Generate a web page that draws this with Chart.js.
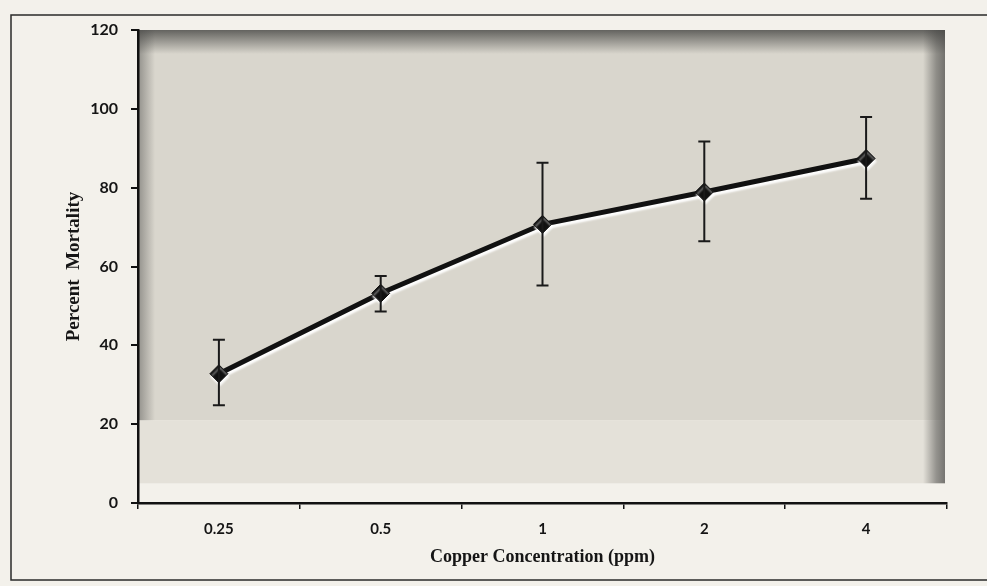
<!DOCTYPE html>
<html>
<head>
<meta charset="utf-8">
<title>Percent Mortality vs Copper Concentration</title>
<script src="https://cdn.jsdelivr.net/npm/chart.js@4.4.1/dist/chart.umd.min.js"></script>
<style>
  html, body { margin: 0; padding: 0; background: #f3f1eb; }
  #wrap { width: 987px; height: 586px; position: relative; }
</style>
</head>
<body>
<div id="wrap"><canvas id="c" width="987" height="586"></canvas></div>
<script>
// Copper concentration groups (ppm)
const concentrations = ['0.25', '0.5', '1', '2', '4'];
// Mean percent mortality per group
const mortality = [32.8, 53.2, 70.7, 78.9, 87.4];
// Error bar limits (lower / upper) per group
const errLow = [24.8, 48.6, 55.2, 66.4, 77.2];
const errHigh = [41.4, 57.6, 86.3, 91.7, 97.9];
// Y axis range and step
const yTicks = { min: 0, max: 120, step: 20 };

// Page background, outer frame and the shaded plotting panel
const panelPlugin = {
  id: 'panel',
  beforeDraw(chart) {
    const { ctx, chartArea: a, scales: { y } } = chart;
    ctx.save();
    ctx.fillStyle = '#f3f1eb';
    ctx.fillRect(0, 0, chart.width, chart.height);

    // outer frame
    ctx.strokeStyle = '#2a2a2a';
    ctx.lineWidth = 1.5;
    ctx.strokeRect(11, 15, chart.width + 20, 565);

    const left = a.left + 1, right = a.right - 2;
    const top = a.top, midY = y.getPixelForValue(21), lowY = y.getPixelForValue(5);

    ctx.fillStyle = '#d9d6cd';
    ctx.fillRect(left, top, right - left, midY - top);
    ctx.fillStyle = '#e4e1d9';
    ctx.fillRect(left, midY, right - left, lowY - midY);

    // darker edges of the panel
    let g = ctx.createLinearGradient(0, top, 0, top + 24);
    g.addColorStop(0, 'rgba(60,60,58,0.75)');
    g.addColorStop(1, 'rgba(60,60,58,0)');
    ctx.fillStyle = g;
    ctx.fillRect(left, top, right - left, 24);

    g = ctx.createLinearGradient(right - 22, 0, right, 0);
    g.addColorStop(0, 'rgba(70,70,68,0)');
    g.addColorStop(0.6, 'rgba(70,70,68,0.5)');
    g.addColorStop(1, 'rgba(70,70,68,0.7)');
    ctx.fillStyle = g;
    ctx.fillRect(right - 22, top, 22, lowY - top);

    g = ctx.createLinearGradient(left, 0, left + 16, 0);
    g.addColorStop(0, 'rgba(70,70,68,0.45)');
    g.addColorStop(1, 'rgba(70,70,68,0)');
    ctx.fillStyle = g;
    ctx.fillRect(left, top, 16, midY - top);
    ctx.restore();
  }
};

// Light halo under the mean line
const haloPlugin = {
  id: 'halo',
  beforeDatasetDraw(chart) {
    const ctx = chart.ctx;
    ctx.save();
    ctx.shadowColor = 'rgba(255,255,255,0.95)';
    ctx.shadowOffsetX = 1;
    ctx.shadowOffsetY = 3;
    ctx.shadowBlur = 2;
  },
  afterDatasetDraw(chart) {
    chart.ctx.restore();
  }
};

// Vertical error bars with caps
const errorBarPlugin = {
  id: 'errorBars',
  afterDatasetsDraw(chart) {
    const { ctx, scales: { x, y } } = chart;
    ctx.save();
    ctx.strokeStyle = '#1a1a1a';
    ctx.lineWidth = 2;
    const cap = 6;
    concentrations.forEach((c, i) => {
      const px = x.getPixelForValue(i);
      const yLo = y.getPixelForValue(errLow[i]);
      const yHi = y.getPixelForValue(errHigh[i]);
      ctx.beginPath();
      ctx.moveTo(px, yHi); ctx.lineTo(px, yLo);
      ctx.moveTo(px - cap, yHi); ctx.lineTo(px + cap, yHi);
      ctx.moveTo(px - cap, yLo); ctx.lineTo(px + cap, yLo);
      ctx.stroke();
    });
    ctx.restore();
  }
};

new Chart(document.getElementById('c'), {
  type: 'line',
  data: {
    labels: concentrations,
    datasets: [{
      data: mortality,
      borderColor: '#111111',
      backgroundColor: '#111111',
      borderWidth: 5,
      pointStyle: 'rectRot',
      pointRadius: 9,
      pointBorderWidth: 1,
      pointBackgroundColor: '#111111',
      pointBorderColor: '#111111',
      tension: 0,
      fill: false
    }]
  },
  options: {
    responsive: false,
    animation: false,
    layout: { padding: { top: 30, right: 40, left: 0, bottom: 0 } },
    plugins: { legend: { display: false }, tooltip: { enabled: false } },
    scales: {
      x: {
        type: 'category',
        offset: true,
        afterFit(s) { s.height = 83; },
        grid: { offset: true, drawOnChartArea: false, drawTicks: true, tickLength: 6, color: '#111', lineWidth: 1.5 },
        border: { display: true, color: '#111', width: 2.5 },
        ticks: {
          color: '#151515', padding: 11,
          font: { family: 'Lato, "Open Sans", sans-serif', weight: 'bold', size: 15 }
        },
        title: {
          display: true, text: 'Copper Concentration (ppm)', color: '#151515',
          padding: 18,
          font: { family: '"Liberation Serif", "Times New Roman", serif', weight: 'bold', size: 18 }
        }
      },
      y: {
        min: yTicks.min, max: yTicks.max,
        afterFit(s) { s.width = 138; },
        grid: { drawOnChartArea: false, drawTicks: true, tickLength: 7, color: '#111', lineWidth: 2 },
        border: { display: true, color: '#111', width: 2.5 },
        ticks: {
          stepSize: yTicks.step, color: '#151515', padding: 13,
          font: { family: 'Lato, "Open Sans", sans-serif', weight: 'bold', size: 16 }
        },
        title: {
          display: true, text: 'Percent  Mortality', color: '#151515',
          padding: 63,
          font: { family: '"Liberation Serif", "Times New Roman", serif', weight: 'bold', size: 19 }
        }
      }
    }
  },
  plugins: [panelPlugin, haloPlugin, errorBarPlugin]
});
</script>
</body>
</html>
